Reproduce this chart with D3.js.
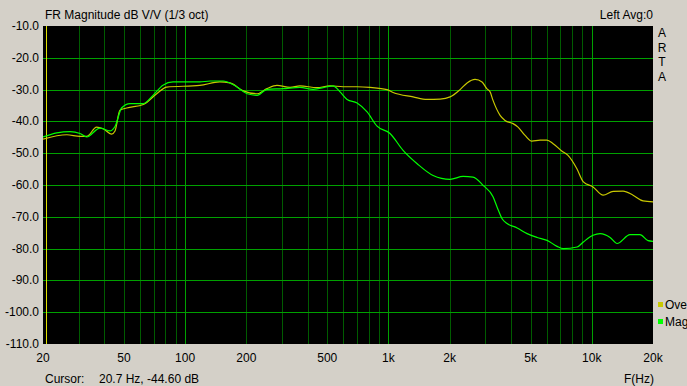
<!DOCTYPE html>
<html>
<head>
<meta charset="utf-8">
<script src="https://cdn.jsdelivr.net/npm/d3@7"></script>
<style>
  body { margin: 0; background: #d4d0c8; }
  svg text { font-family: "Liberation Sans", Arial, sans-serif; font-size: 12px; fill: #000; }
</style>
</head>
<body>
<div id="chart"></div>
<script>
let canvasWidth = 687;
let canvasHeight = 386;
let plotLeft = 43, plotRight = 653, plotTop = 26, plotBottom = 344;

// "Overall" trace (yellow)
let ovFreq = [20, 26.2, 30.4, 32.8, 36.7, 39.5, 43.5, 45.2, 47.8, 51.6, 62.3, 72.5, 81.1,
  118, 148, 166, 193, 226, 253, 283, 328, 367, 446, 516, 598, 701, 811, 984, 1054,
  1322, 1548, 1795, 2010, 2250, 2436, 2667, 2886, 3044, 3160, 3268, 3540, 3744, 4100,
  4338, 4698, 5070, 5572, 6012, 6456, 7112, 7640, 8434, 9092, 10140, 11372, 12736,
  14258, 15960, 17868, 20000];
let ovDb = [-45.6, -44.2, -44.7, -44.7, -41.8, -42.3, -44.0, -43.0, -36.5, -35.8, -34.7, -31.3, -29.2,
  -28.7, -27.6, -27.9, -30.4, -31.3, -29.7, -28.7, -29.3, -28.8, -29.4, -28.8, -29.1, -29.1, -29.3, -30.0, -30.9,
  -32.3, -33.1, -33.0, -32.3, -30.0, -27.9, -26.8, -27.6, -29.7, -30.7, -33.4, -38.1, -39.7, -40.7,
  -41.8, -44.4, -46.2, -45.9, -45.9, -47.0, -49.3, -50.7, -54.8, -59.0, -60.6, -63.2, -62.0,
  -61.9, -63.2, -65.0, -65.3];

// "Mag" trace (green)
let magFreq = [20, 23.4, 27.2, 30.4, 32.8, 38.1, 42.7, 45.2, 48.8, 53.6, 62.3, 69.5, 77.8, 87.2,
  118, 133, 154, 172, 202, 226, 253, 303, 367, 426, 499, 534, 578, 626, 701, 785, 879,
  1018, 1180, 1384, 1658, 2010, 2328, 2606, 2920, 3268, 3420, 3622, 3832, 4296, 4808,
  5384, 6026, 6746, 7228, 8472, 9092, 10140, 10990, 12304, 13312, 15418, 17260, 18908, 20000];
let magDb = [-44.9, -43.6, -43.2, -43.8, -44.9, -42.1, -43.0, -41.6, -35.7, -34.4, -34.4, -31.8, -28.6, -27.6,
  -27.6, -27.3, -27.3, -28.4, -31.3, -31.8, -29.9, -29.7, -29.3, -29.9, -29.1, -28.8, -30.7, -33.1, -34.2, -37.0, -41.5,
  -43.8, -49.1, -53.3, -57.0, -58.2, -57.3, -57.5, -60.1, -63.7, -66.9, -70.6, -72.1, -73.5, -75.3,
  -76.5, -77.4, -79.3, -80.0, -79.5, -77.9, -75.8, -75.3, -76.5, -78.4, -75.6, -75.6, -77.5, -77.7];

let yTicks = [-10, -20, -30, -40, -50, -60, -70, -80, -90, -100, -110];
let xTickValues = [20, 50, 100, 200, 500, 1000, 2000, 5000, 10000, 20000];
let xTickLabels = ["20", "50", "100", "200", "500", "1k", "2k", "5k", "10k", "20k"];
let xGrid = [30, 40, 50, 60, 70, 80, 90, 100, 200, 300, 400, 500, 600, 700, 800, 900,
  1000, 2000, 3000, 4000, 5000, 6000, 7000, 8000, 9000, 10000];
let xMajor = [100, 1000, 10000];
let cursorFreq = 20.7;
let seriesNames = ["Ove", "Mag"];
let seriesColors = ["#c8c800", "#00ff00"];

let svg = d3.select("div#chart")
    .append("svg")
    .attr("width", canvasWidth)
    .attr("height", canvasHeight);

let xScale = d3.scaleLog().domain([20, 20000]).range([plotLeft, plotRight]);
let yScale = d3.scaleLinear().domain([-110, -10]).range([plotBottom, plotTop]);

// plot background
svg.append("rect")
    .attr("x", plotLeft).attr("y", plotTop)
    .attr("width", plotRight - plotLeft).attr("height", plotBottom - plotTop)
    .attr("fill", "#000");

svg.append("clipPath").attr("id", "clip")
    .append("rect")
    .attr("x", plotLeft).attr("y", plotTop)
    .attr("width", plotRight - plotLeft).attr("height", plotBottom - plotTop);

// vertical grid
svg.append("g").selectAll("line")
    .data(xGrid)
    .join("line")
    .attr("x1", d => Math.round(xScale(d)) + 0.5)
    .attr("x2", d => Math.round(xScale(d)) + 0.5)
    .attr("y1", plotTop).attr("y2", plotBottom)
    .attr("stroke", d => xMajor.includes(d) ? "#00a000" : "#005c00")
    .attr("stroke-width", 1)
    .attr("shape-rendering", "crispEdges");

// horizontal grid
svg.append("g").selectAll("line")
    .data(yTicks.slice(1, -1))
    .join("line")
    .attr("x1", plotLeft).attr("x2", plotRight)
    .attr("y1", d => Math.round(yScale(d)) + 0.5)
    .attr("y2", d => Math.round(yScale(d)) + 0.5)
    .attr("stroke", "#00a000")
    .attr("shape-rendering", "crispEdges");

// cursor
svg.append("line")
    .attr("x1", Math.round(xScale(cursorFreq)) + 0.5)
    .attr("x2", Math.round(xScale(cursorFreq)) + 0.5)
    .attr("y1", plotTop).attr("y2", plotBottom)
    .attr("stroke", "#e0e000")
    .attr("shape-rendering", "crispEdges");

let line = d3.line()
    .x(d => xScale(d[0]))
    .y(d => yScale(d[1]))
    .curve(d3.curveMonotoneX);

let traces = [d3.zip(ovFreq, ovDb), d3.zip(magFreq, magDb)];

svg.append("g")
    .attr("clip-path", "url(#clip)")
    .selectAll("path")
    .data(traces)
    .join("path")
    .attr("fill", "none")
    .attr("stroke", (d, i) => seriesColors[i])
    .attr("stroke-width", 1.2)
    .attr("d", line);

// y axis labels
svg.append("g").selectAll("text")
    .data(yTicks)
    .join("text")
    .attr("x", 39)
    .attr("y", d => yScale(d) + 4)
    .attr("text-anchor", "end")
    .text(d => d.toFixed(1));

// x axis labels
svg.append("g").selectAll("text")
    .data(xTickValues)
    .join("text")
    .attr("x", d => xScale(d))
    .attr("y", 362)
    .attr("text-anchor", "middle")
    .text((d, i) => xTickLabels[i]);

// title and header texts
svg.append("text").attr("x", 45).attr("y", 19).text("FR Magnitude dB V/V (1/3 oct)");
svg.append("text").attr("x", 653).attr("y", 19).attr("text-anchor", "end").text("Left  Avg:0");

svg.append("g").selectAll("text")
    .data(["A", "R", "T", "A"])
    .join("text")
    .attr("x", 662)
    .attr("y", (d, i) => 37 + i * 14.7)
    .attr("text-anchor", "middle")
    .text(d => d);

// legend
let legend = svg.append("g").selectAll("g")
    .data(seriesNames)
    .join("g")
    .attr("transform", (d, i) => "translate(658, " + (302 + i * 17) + ")");
legend.append("rect")
    .attr("width", 5).attr("height", 5)
    .attr("fill", (d, i) => seriesColors[i]);
legend.append("text")
    .attr("x", 7).attr("y", 6.5)
    .text(d => d);

// bottom texts
svg.append("text").attr("x", 45).attr("y", 383).text("Cursor:");
svg.append("text").attr("x", 99).attr("y", 383).text("20.7 Hz, -44.60 dB");
svg.append("text").attr("x", 624).attr("y", 383).text("F(Hz)");
</script>
</body>
</html>
